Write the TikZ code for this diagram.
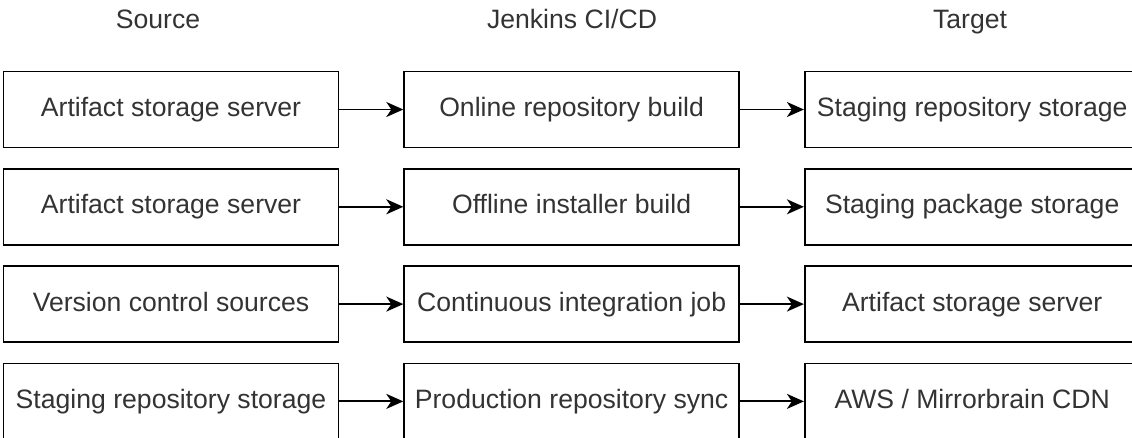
\documentclass[tikz,border=0pt]{standalone}
\usepackage{fontspec}
\setmainfont{Liberation Sans}
\usepackage{tikz}
\tikzset{
    stage/.style={draw, line width=1.6pt, minimum width=335pt, minimum height=76pt,
                  inner sep=0pt, text height=20pt, text depth=6pt,
                  text=black!80, font=\fontsize{26.6}{32}\selectfont},
    heading/.style={text height=20pt, text depth=6pt,
                    text=black!80, font=\fontsize{26.6}{32}\selectfont},
    flow/.style = {-{Stealth[length=17pt, width=15pt, inset=5pt]}, line width=1.8pt} }
\usetikzlibrary{positioning, arrows.meta}

\begin{document}
\begin{tikzpicture}[x=1pt, y=1pt, node distance=19.7pt and 64pt]
      \useasboundingbox (0,0) rectangle (1132,438);
      \clip (0,0) rectangle (1132,438);
      \node[heading] (hsrc) at (158,416) {Source};
      \node[heading] (hjob) at (572,416) {Jenkins CI/CD};
      \node[heading] (htgt) at (970,416) {Target};
      % ----
      \node[stage] (src1) at (171,328.5) {Artifact storage server};
      \node[stage, right = of src1] (job1) {Online repository build};
      \node[stage, right = of job1] (tgt1) {Staging repository storage};
      % ----
      \node[stage, below = of src1] (src2) {Artifact storage server};
      \node[stage, right = of src2] (job2) {Offline installer build};
      \node[stage, right = of job2] (tgt2) {Staging package storage};
      % ----
      \node[stage, below = of src2] (src3) {Version control sources};
      \node[stage, right = of src3] (job3) {Continuous integration job};
      \node[stage, right = of job3] (tgt3) {Artifact storage server};
      % ----
      \node[stage, below = of src3] (src4) {Staging repository storage};
      \node[stage, right = of src4] (job4) {Production repository sync};
      \node[stage, right = of job4] (tgt4) {AWS / Mirrorbrain CDN};
      % ----
      \foreach \i in {1,...,4} {
          \draw[flow] (src\i) -- (job\i);
          \draw[flow] (job\i) -- (tgt\i);
      }
\end{tikzpicture}
\end{document}
